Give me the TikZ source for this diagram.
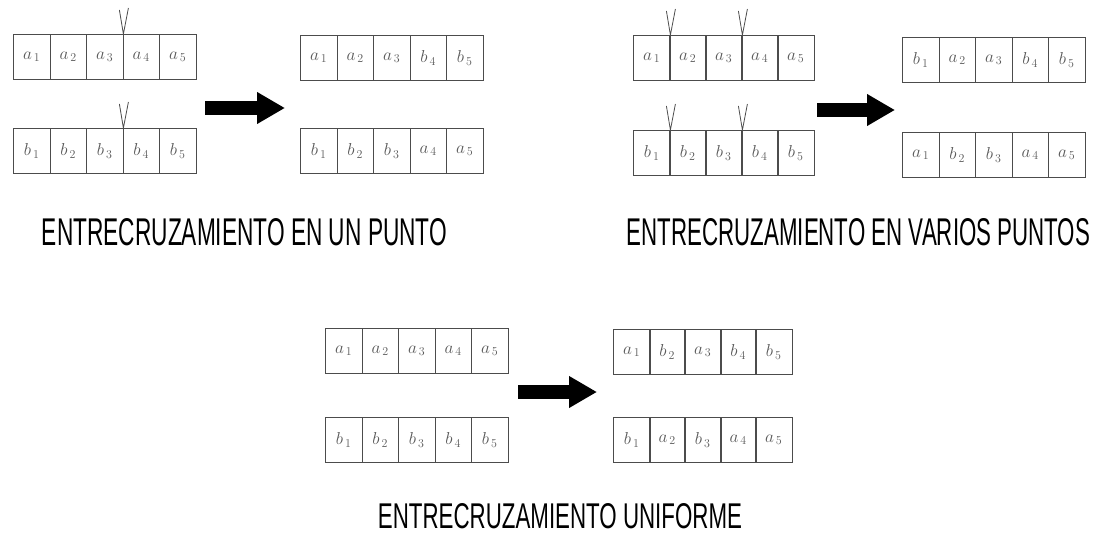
\documentclass[tikz,border=0pt]{standalone}
\usepackage{fontspec}
\usepackage{graphicx}
\newfontfamily\titlefont{Liberation Sans}
\usetikzlibrary{arrows.meta,calc}
\begin{document}
\begin{tikzpicture}[x=1pt,y=-1pt,
  cell/.style={draw=black!70, line width=0.9pt, minimum width=36.5pt, minimum height=45pt,
    inner sep=0pt, anchor=north west, font=\fontsize{18}{18}\selectfont, text=black!65},
  vmark/.style={draw=black!70, line width=0.8pt},
  bigarrow/.style={line width=14pt, draw=black, -{Triangle[length=28pt,width=30pt]}},
  title/.style={inner sep=0pt, font=\titlefont, text=black}]
\useasboundingbox[fill=white] (0,0) rectangle (1105,535);

% ---------- top left: one point crossover ----------
\foreach \lab [count=\i] in {a_{\,1},a_{\,2},a_{\,3},a_{\,4},a_{\,5}}
  \node[cell] (TLA\i) at ({13+(\i-1)*36.5},34) {$\lab$};
\foreach \lab [count=\i] in {b_{\,1},b_{\,2},b_{\,3},b_{\,4},b_{\,5}}
  \node[cell] (TLB\i) at ({13+(\i-1)*36.5},128) {$\lab$};
\foreach \lab [count=\i] in {a_{\,1},a_{\,2},a_{\,3},b_{\,4},b_{\,5}}
  \node[cell] (TLR\i) at ({300+(\i-1)*36.5},35) {$\lab$};
\foreach \lab [count=\i] in {b_{\,1},b_{\,2},b_{\,3},a_{\,4},a_{\,5}}
  \node[cell] (TLS\i) at ({300+(\i-1)*36.5},128) {$\lab$};
\foreach \n in {TLA3,TLB3}
  \draw[vmark] ($(\n.north east)+(-4,-24)$) -- (\n.north east) -- ($(\n.north east)+(5,-26)$);
\coordinate (TLs) at (205,108);
\coordinate (TLe) at (285,108);
\draw[bigarrow] (TLs) -- (TLe);
\node[title] (T1) at (244.5,232.5) {\resizebox{405pt}{27pt}{ENTRECRUZAMIENTO EN UN PUNTO}};

% ---------- top right: multi point crossover ----------
\foreach \lab [count=\i] in {a_{\,1},a_{\,2},a_{\,3},a_{\,4},a_{\,5}}
  \node[cell] (TRA\i) at ({633+(\i-1)*36},35) {$\lab$};
\foreach \lab [count=\i] in {b_{\,1},b_{\,2},b_{\,3},b_{\,4},b_{\,5}}
  \node[cell] (TRB\i) at ({633+(\i-1)*36},130) {$\lab$};
\foreach \lab [count=\i] in {b_{\,1},a_{\,2},a_{\,3},b_{\,4},b_{\,5}}
  \node[cell] (TRR\i) at ({902+(\i-1)*36.5},37) {$\lab$};
\foreach \lab [count=\i] in {a_{\,1},b_{\,2},b_{\,3},a_{\,4},a_{\,5}}
  \node[cell] (TRS\i) at ({902+(\i-1)*36.5},132) {$\lab$};
\foreach \n in {TRA1,TRA3,TRB1,TRB3}
  \draw[vmark] ($(\n.north east)+(-4,-24)$) -- (\n.north east) -- ($(\n.north east)+(5,-26)$);
\coordinate (TRs) at (817,110);
\coordinate (TRe) at (895,110);
\draw[bigarrow] (TRs) -- (TRe);
\node[title] (T2) at (858.5,232) {\resizebox{463pt}{27pt}{ENTRECRUZAMIENTO EN VARIOS PUNTOS}};

% ---------- bottom: uniform crossover ----------
\foreach \lab [count=\i] in {a_{\,1},a_{\,2},a_{\,3},a_{\,4},a_{\,5}}
  \node[cell] (BA\i) at ({325+(\i-1)*36.5},328) {$\lab$};
\foreach \lab [count=\i] in {b_{\,1},b_{\,2},b_{\,3},b_{\,4},b_{\,5}}
  \node[cell] (BB\i) at ({325+(\i-1)*36.5},417) {$\lab$};
\foreach \lab [count=\i] in {a_{\,1},b_{\,2},a_{\,3},b_{\,4},b_{\,5}}
  \node[cell] (BR\i) at ({613+(\i-1)*35.5},329) {$\lab$};
\foreach \lab [count=\i] in {b_{\,1},a_{\,2},b_{\,3},a_{\,4},a_{\,5}}
  \node[cell] (BS\i) at ({613+(\i-1)*35.5},417) {$\lab$};
\coordinate (Bs) at (518,392);
\coordinate (Be) at (597,392);
\draw[bigarrow] (Bs) -- (Be);
\node[title] (T3) at (560,516) {\resizebox{364pt}{25pt}{ENTRECRUZAMIENTO UNIFORME}};
\end{tikzpicture}
\end{document}
